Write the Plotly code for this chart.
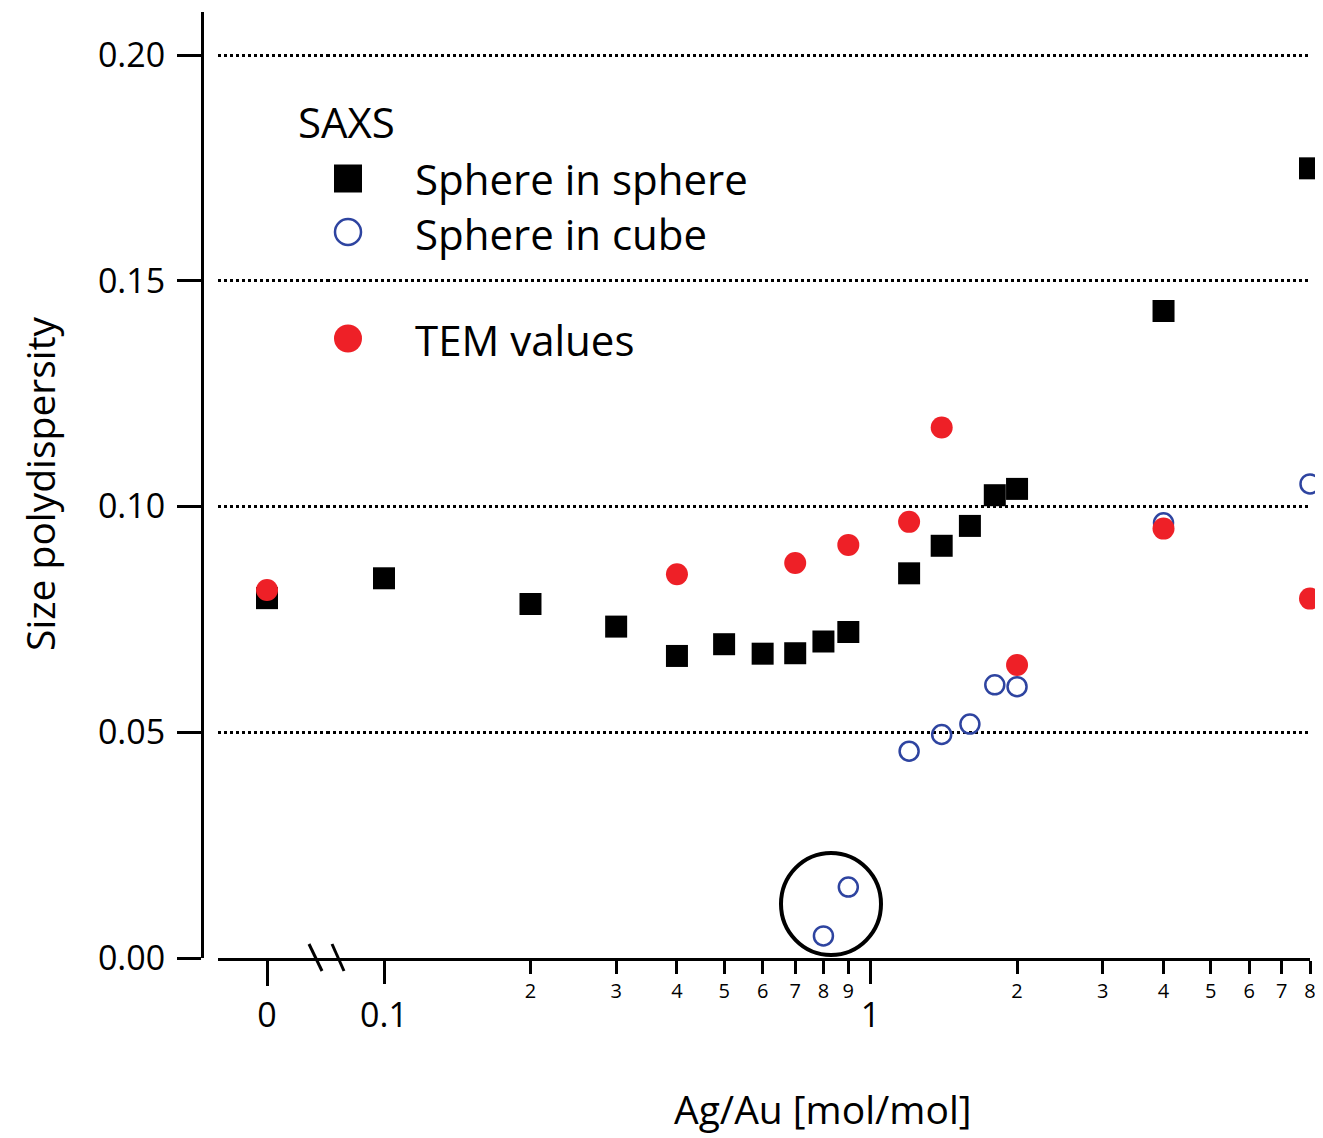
import math
import plotly.graph_objects as go

# Ag/Au ratio [mol/mol] and size polydispersity
sphere_sphere_x = [0.1, 0.2, 0.3, 0.4, 0.5, 0.6, 0.7, 0.8, 0.9, 1.2, 1.4, 1.6, 1.8, 2.0, 4.0, 8.0]
sphere_sphere_y = [0.0841, 0.0784, 0.0734, 0.0669, 0.0695, 0.0674, 0.0675, 0.0701, 0.0722,
                   0.0852, 0.0913, 0.0957, 0.1025, 0.1039, 0.1433, 0.1749]
sphere_sphere_zero = [0.0797]

sphere_cube_x = [0.8, 0.9, 1.2, 1.4, 1.6, 1.8, 2.0, 4.0, 8.0]
sphere_cube_y = [0.0049, 0.0157, 0.0458, 0.0495, 0.0518, 0.0605, 0.0601, 0.0964, 0.1050]

tem_x = [0.4, 0.7, 0.9, 1.2, 1.4, 2.0, 4.0, 8.0]
tem_y = [0.0850, 0.0875, 0.0915, 0.0966, 0.1175, 0.0649, 0.0951, 0.0796]
tem_zero = [0.0815]

minor_vals = [0.2, 0.3, 0.4, 0.5, 0.6, 0.7, 0.8, 0.9, 2, 3, 4, 5, 6, 7, 8]
minor_text = ["2", "3", "4", "5", "6", "7", "8", "9", "2", "3", "4", "5", "6", "7", "8"]
major_vals = [0.1, 1]
major_text = ["0.1", "1"]
y_vals = [0, 0.05, 0.10, 0.15, 0.20]
y_text = ["0.00", "0.05", "0.10", "0.15", "0.20"]

# layout in page pixels (the page body adds an 8 px margin)
OFF = 8
W, H = 1323 - OFF, 1138 - OFF
L, R, T, B = 202, 1310, 12, 958
FONT = "Open Sans"
RED = "#ee2027"
BLUE = "#2e44a0"


def px(x):
    return (x - L) / (R - L)


def py(y):
    return (B - y) / (B - T)


y_top = 0.2 * (B - T) / (958 - 55)
split = 327
log_lo = -1 - (384 - split) / 486.5

fig = go.Figure()

fig.add_trace(go.Scatter(
    x=[0], y=sphere_sphere_zero, xaxis="x2", mode="markers",
    marker=dict(symbol="square", size=22, color="black"), cliponaxis=False
))
fig.add_trace(go.Scatter(
    x=sphere_sphere_x, y=sphere_sphere_y, mode="markers", name="Sphere in sphere",
    marker=dict(symbol="square", size=22, color="black"), cliponaxis=False
))
fig.add_trace(go.Scatter(
    x=sphere_cube_x, y=sphere_cube_y, mode="markers", name="Sphere in cube",
    marker=dict(symbol="circle-open", size=19, color=BLUE, line=dict(width=2.5)),
    cliponaxis=False
))
fig.add_trace(go.Scatter(
    x=[0], y=tem_zero, xaxis="x2", mode="markers",
    marker=dict(symbol="circle", size=22, color=RED), cliponaxis=False
))
fig.add_trace(go.Scatter(
    x=tem_x, y=tem_y, mode="markers", name="TEM values",
    marker=dict(symbol="circle", size=22, color=RED), cliponaxis=False
))
# dummy trace so the overlay axis with the major ticks is drawn
fig.add_trace(go.Scatter(x=[1], y=[None], xaxis="x3", mode="markers"))

axis_common = dict(
    showline=True, linecolor="black", linewidth=3,
    ticks="outside", tickcolor="black", tickwidth=3,
    showgrid=False, zeroline=False,
)

fig.update_layout(
    width=W, height=H,
    margin=dict(l=L - OFF, r=W - (R - OFF), t=T - OFF, b=H - (B - OFF)),
    plot_bgcolor="white", paper_bgcolor="white",
    showlegend=False,
    font=dict(family=FONT, color="black"),
    xaxis=dict(
        type="log", domain=[px(split), 1], range=[log_lo, math.log10(8)],
        anchor="y", tickvals=minor_vals, ticktext=minor_text, ticklen=13,
        tickfont=dict(size=20), ticklabelstandoff=0, **axis_common
    ),
    xaxis3=dict(
        type="log", overlaying="x", range=[log_lo, math.log10(8)], anchor="y",
        tickvals=major_vals, ticktext=major_text, ticklen=25,
        tickfont=dict(size=34), ticklabelstandoff=2,
        showline=False, ticks="outside", tickcolor="black", tickwidth=3,
        showgrid=False, zeroline=False
    ),
    xaxis2=dict(
        domain=[px(218), px(split)], range=[218 - 267, split - 267], anchor="y",
        tickvals=[0], ticktext=["0"], ticklen=25,
        tickfont=dict(size=34), ticklabelstandoff=0, **axis_common
    ),
    yaxis=dict(
        range=[0, y_top], anchor="free", position=0,
        tickvals=y_vals, ticktext=y_text, ticklen=24, tickfont=dict(size=34),
        ticklabelstandoff=5,
        showline=True, linecolor="black", linewidth=3,
        ticks="outside", tickcolor="black", tickwidth=3,
        showgrid=True, gridcolor="black", gridwidth=2.5, griddash="dot",
        zeroline=False
    ),
)

# axis break marks
for x0, x1 in [(309, 322), (332, 344)]:
    fig.add_shape(type="line", xref="paper", yref="paper",
                  x0=px(x0), y0=py(944), x1=px(x1), y1=py(971),
                  line=dict(color="black", width=3))

# highlight circle around the low sphere-in-cube values
fig.add_shape(type="circle", xref="paper", yref="paper",
              x0=px(781), x1=px(881), y0=py(853), y1=py(955),
              line=dict(color="black", width=4))

# legend drawn by hand
fig.add_annotation(text="SAXS", xref="paper", yref="paper", x=px(296), y=py(122),
                   xanchor="left", yanchor="middle", showarrow=False, font=dict(size=42))
fig.add_shape(type="rect", xref="paper", yref="paper",
              x0=px(334), x1=px(362), y0=py(164.5), y1=py(192.5),
              fillcolor="black", line=dict(width=0))
fig.add_shape(type="circle", xref="paper", yref="paper",
              x0=px(335), x1=px(361), y0=py(219), y1=py(245),
              line=dict(color=BLUE, width=2.5))
fig.add_shape(type="circle", xref="paper", yref="paper",
              x0=px(334), x1=px(362), y0=py(324.5), y1=py(352.5),
              fillcolor=RED, line=dict(width=0))
fig.add_annotation(text="Sphere in sphere<br>Sphere in cube", xref="paper", yref="paper",
                   x=px(413), y=py(206), xanchor="left", yanchor="middle", align="left",
                   showarrow=False, font=dict(size=42))
fig.add_annotation(text="TEM values", xref="paper", yref="paper", x=px(413), y=py(339),
                   xanchor="left", yanchor="middle", showarrow=False, font=dict(size=42))

# axis titles
fig.add_annotation(text="Size polydispersity", xref="paper", yref="paper",
                   x=px(39), y=py(484), textangle=-90, showarrow=False,
                   xanchor="center", yanchor="middle", font=dict(size=39))
fig.add_annotation(text="Ag/Au [mol/mol]", xref="paper", yref="paper",
                   x=px(823), y=py(1108), showarrow=False,
                   xanchor="center", yanchor="middle", font=dict(size=39))

fig.write_html("out.html")
